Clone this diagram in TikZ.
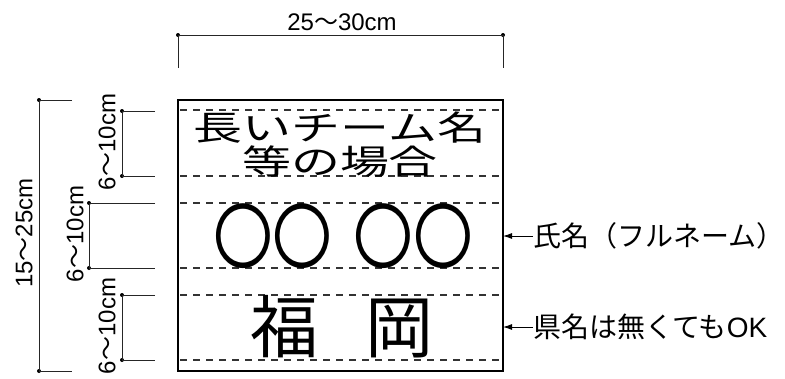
\documentclass[tikz,border=0pt]{standalone}
\usepackage{fontspec}
\usepackage{graphicx}
\setmainfont{Noto Sans CJK JP}
\newfontfamily\lat{Liberation Sans}
\usetikzlibrary{arrows.meta}
\tikzset{
  dimline/.style={line width=0.9pt, draw=black!85},
  dashrule/.style={line width=1.3pt, draw=black!80, dash pattern=on 6.5pt off 6.5pt, dash phase=-2pt},
  dimlabel/.style={inner sep=0pt, font=\fontsize{24}{24}\selectfont},
  sidelabel/.style={inner sep=0pt, anchor=west, font=\fontsize{28}{28}\selectfont},
  ptr/.style={line width=0.9pt, -{Latex[length=9pt,width=6pt]}},
  dot/.style={circle, fill=black, inner sep=0pt, minimum size=4pt}
}
\newcommand{\dimtxt}[2]{{\lat #1}〜{\lat #2cm}}
\begin{document}
\begin{tikzpicture}[x=1pt,y=-1pt]
\useasboundingbox (0,0) rectangle (785,378);
% box corners
\coordinate (TL) at (178,100);
\coordinate (BR) at (503,371);
% dashed guide lines
\foreach \yy/\nm in {110/g1,176/g2,203/g3,268/g4,295/g5,360/g6}{
  \coordinate (\nm L) at (178,\yy);
  \coordinate (\nm R) at (503,\yy);
  \draw[dashrule] (\nm L) -- (\nm R);
}
\draw[line width=2pt] (TL) rectangle (BR);

% top dimension
\node[dot] (wa) at (178,35) {};
\node[dot] (wb) at (503,35) {};
\coordinate (wa2) at (178,68);
\coordinate (wb2) at (503,68);
\draw[dimline] (wa2) -- (wa.center) -- (wb.center) -- (wb2);
\node[dimlabel] (wlab) at (342,22) {\dimtxt{25}{30}};

% left total dimension
\node[dot] (ha) at (39,100) {};
\node[dot] (hb) at (39,371) {};
\coordinate (ha2) at (72,100);
\coordinate (hb2) at (72,371);
\draw[dimline] (ha2) -- (ha.center) -- (hb.center) -- (hb2);
\node[dimlabel, rotate=90] (hlab) at (24,233) {\dimtxt{15}{25}};

% section dimensions
\node[dot] (s1a) at (122,111) {};
\node[dot] (s1b) at (122,176) {};
\coordinate (s1a2) at (155,111);
\coordinate (s1b2) at (155,176);
\draw[dimline] (s1a2) -- (s1a.center) -- (s1b.center) -- (s1b2);
\node[dimlabel, rotate=90] (s1lab) at (107,142) {\dimtxt{6}{10}};

\node[dot] (s2a) at (89,203) {};
\node[dot] (s2b) at (89,268) {};
\coordinate (s2a2) at (155,203);
\coordinate (s2b2) at (155,268);
\draw[dimline] (s2a2) -- (s2a.center) -- (s2b.center) -- (s2b2);
\node[dimlabel, rotate=90] (s2lab) at (75,234) {\dimtxt{6}{10}};

\node[dot] (s3a) at (122,295) {};
\node[dot] (s3b) at (122,360) {};
\coordinate (s3a2) at (155,295);
\coordinate (s3b2) at (155,360);
\draw[dimline] (s3a2) -- (s3a.center) -- (s3b.center) -- (s3b2);
\node[dimlabel, rotate=90] (s3lab) at (107,326) {\dimtxt{6}{10}};

% texts in box
\node[inner sep=0pt, font=\fontsize{34}{34}\selectfont] (t1) at (340,128) {\scalebox{1.44}[1]{長いチーム名}};
\node[inner sep=0pt, font=\fontsize{34}{34}\selectfont] (t2) at (340,162) {\scalebox{1.44}[1]{等の場合}};
\node[inner sep=0pt, font=\fontsize{72}{72}\selectfont] (t3) at (343,236) {\scalebox{0.83}[1]{〇〇\hspace{25pt}〇〇}};
\node[inner sep=0pt, font=\fontsize{68}{68}\selectfont] (t4) at (342,327) {福\hspace{47pt}岡};

% side labels
\coordinate (BRx) at (503,0);
\node[sidelabel] (n1) at (533,236) {氏名（フルネーム）};
\node[sidelabel] (n2) at (533,327) {県名は無くても{\lat OK}};
\draw[ptr] (n1.west) -- (n1.west -| BRx);
\draw[ptr] (n2.west) -- (n2.west -| BRx);
\end{tikzpicture}
\end{document}
